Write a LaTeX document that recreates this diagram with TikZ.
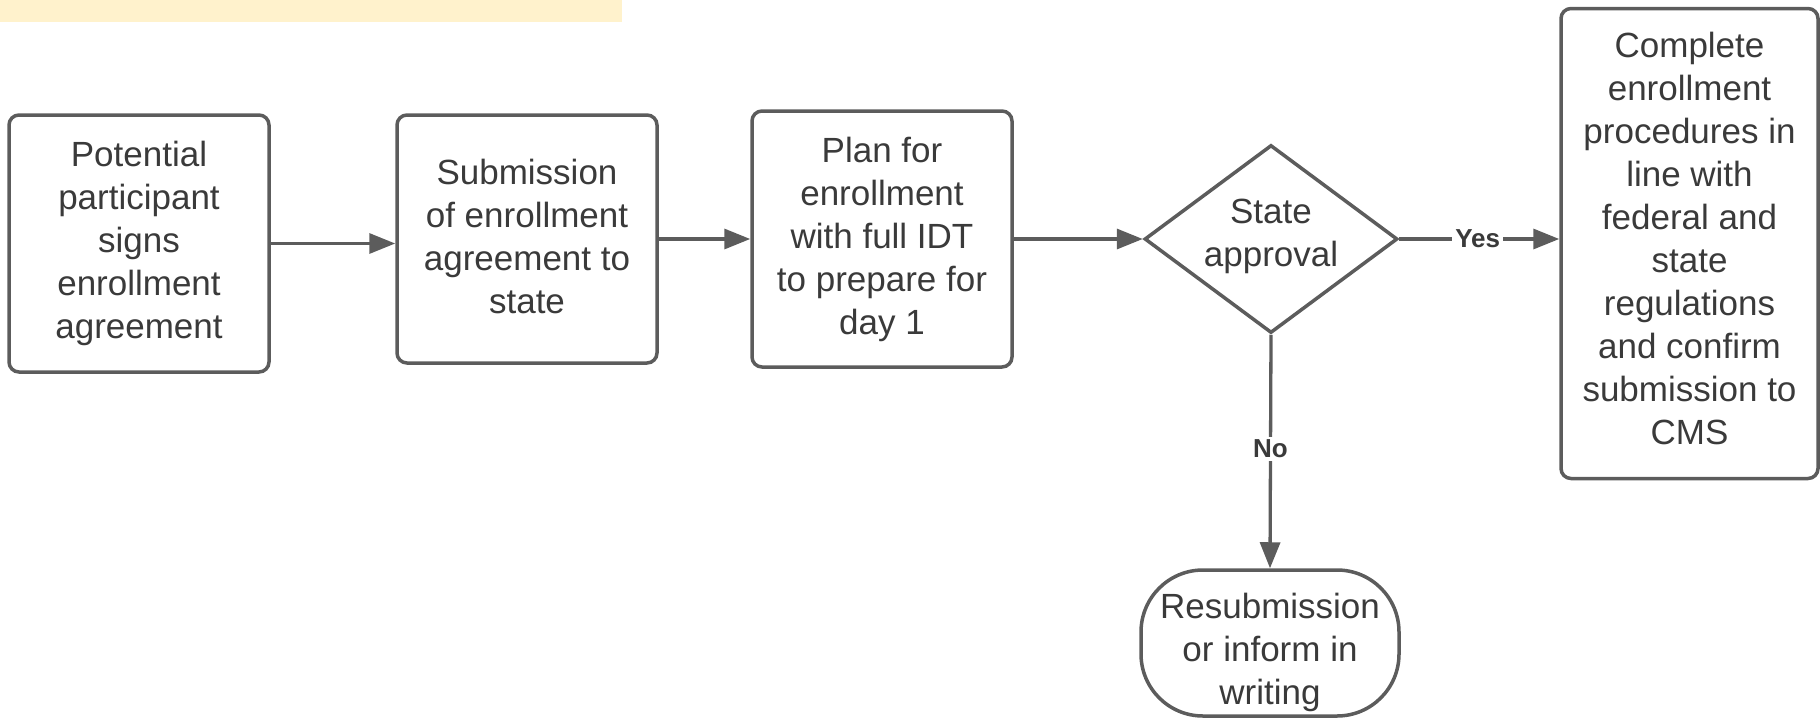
\documentclass[tikz,border=0pt]{standalone}
\usepackage{fontspec}
\setmainfont{Liberation Sans}
\usetikzlibrary{arrows.meta,shapes.geometric}
\definecolor{edge}{HTML}{5C5C5C}
\definecolor{txt}{HTML}{3A3A3A}
\definecolor{banner}{HTML}{FFF2CC}
\begin{document}
\begin{tikzpicture}[x=1pt,y=-1pt,
  stepbox/.style={draw=edge, line width=3.5pt, rounded corners=10pt, align=center, text=txt, inner sep=0pt, font=\fontsize{35}{43}\selectfont},
  decision/.style={draw=edge, line width=3.5pt, diamond, inner sep=0pt},
  term/.style={draw=edge, line width=3.5pt, rounded corners=62pt, inner sep=0pt},
  plain/.style={text=txt, align=center, inner sep=0pt, font=\fontsize{35}{43}\selectfont},
  flow/.style={draw=edge, line width=3.3pt, -{Triangle[length=26pt,width=20pt]}},
  lbl/.style={fill=white, text=txt, font=\bfseries\fontsize{26}{30}\selectfont, inner sep=3pt}
]
\useasboundingbox (0,0) rectangle (1820,720);
\fill[banner] (0,0) rectangle (622,22);

\node[stepbox, minimum width=260pt, minimum height=257pt] (b1) at (139,243.5)
  {Potential\\participant\\signs\\enrollment\\agreement};
\node[stepbox, minimum width=260pt, minimum height=248pt] (b2) at (527,239) {};
\node[plain] (b2text) at (527,236) {Submission\\of enrollment\\agreement to\\state};
\node[stepbox, minimum width=260pt, minimum height=256pt] (b3) at (882,239)
  {Plan for\\enrollment\\with full IDT\\to prepare for\\day 1};
\node[decision, minimum width=253pt, minimum height=188pt] (dec) at (1271,239) {};
\node[plain] (dectext) at (1271,236) {State\\approval};
\node[stepbox, minimum width=257pt, minimum height=470pt] (b5) at (1689.5,243.5) {};
\node[plain] (b5text) at (1689.5,238.5)
  {Complete\\enrollment\\procedures in\\line with\\federal and\\state\\regulations\\and confirm\\submission to\\CMS};
\node[term, minimum width=258pt, minimum height=146pt] (res) at (1270,643) {};
\node[plain] (restext) at (1270,652) {Resubmission\\or inform in\\writing};

\draw[flow] (b1.east) -- (b1.east -| b2.west);
\draw[flow] (b2.east) -- (b3.west);
\draw[flow] (b3.east) -- (dec.west);
\draw[flow] (dec.east) -- node[lbl, pos=0.49] {Yes} (dec.east -| b5.west);
\draw[flow] (dec.south) -- node[lbl, pos=0.49] {No} (res.north);
\end{tikzpicture}
\end{document}
